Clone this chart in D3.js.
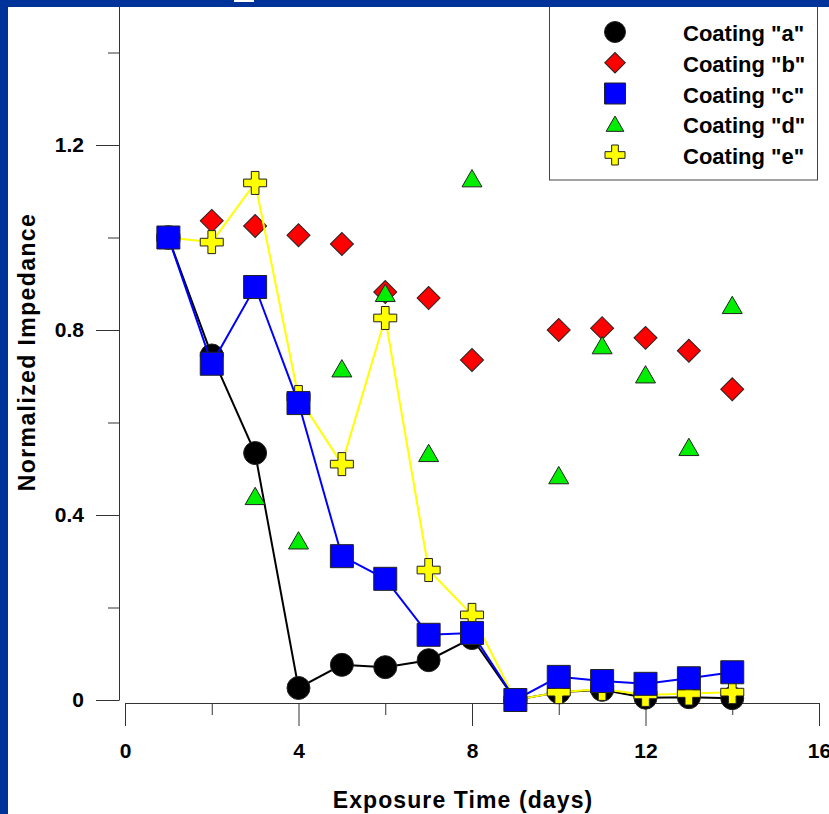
<!DOCTYPE html>
<html>
<head>
<meta charset="utf-8">
<script src="https://cdn.jsdelivr.net/npm/d3@7"></script>
<style>
  body { margin: 0; padding: 0; background: #ffffff; }
  svg { display: block; font-family: 'Liberation Sans', Arial, sans-serif; font-weight: bold; }
</style>
</head>
<body>
<script>
// values
const daysA = [1, 2, 3, 4, 5, 6, 7, 8, 9, 10, 11, 12, 13, 14]
const coatingA = [1.0, 0.745, 0.534, 0.026, 0.076, 0.071, 0.086, 0.134, 0, 0.017, 0.022, 0.005, 0.006, 0.004]

const daysB = [1, 2, 3, 4, 5, 6, 7, 8, 10, 11, 12, 13, 14]
const coatingB = [1.0, 1.036, 1.025, 1.005, 0.986, 0.882, 0.869, 0.735, 0.8, 0.804, 0.783, 0.755, 0.672]

const daysC = [1, 2, 3, 4, 5, 6, 7, 8, 9, 10, 11, 12, 13, 14]
const coatingC = [1.0, 0.727, 0.893, 0.642, 0.311, 0.262, 0.141, 0.145, 0, 0.05, 0.041, 0.035, 0.047, 0.06]

const daysD = [1, 3, 4, 5, 6, 7, 8, 10, 11, 12, 13, 14]
const coatingD = [1.0, 0.435, 0.339, 0.711, 0.874, 0.528, 1.122, 0.48, 0.761, 0.698, 0.541, 0.848]

const daysE = [1, 2, 3, 4, 5, 6, 7, 8, 9, 10, 11, 12, 13, 14]
const coatingE = [1.0, 0.99, 1.118, 0.655, 0.51, 0.826, 0.281, 0.184, 0, 0.017, 0.024, 0.011, 0.014, 0.017]

const legendLabels = ['Coating "a"', 'Coating "b"', 'Coating "c"', 'Coating "d"', 'Coating "e"']
const xMajorTicks = [0, 4, 8, 12, 16]
const xMinorTicks = [2, 6, 10, 14]
const yMajorTicks = [0, 0.4, 0.8, 1.2]
const yMinorTicks = [0.2, 0.6, 1.0, 1.4]

const W = 829, H = 814

const svg = d3.select('body')
              .append('svg')
              .attr('width', W)
              .attr('height', H)

svg.append('rect')
   .attr('width', W)
   .attr('height', H)
   .attr('fill', '#ffffff')

const x = d3.scaleLinear().domain([0, 16]).range([125, 819])
const y = d3.scaleLinear().domain([0, 1.5]).range([700, 6.25])

const series = [
    {days: daysA, vals: coatingA, type: d3.symbolCircle, size: 415, fill: '#000000', line: '#000000', rot: 0, lsize: 346},
    {days: daysB, vals: coatingB, type: d3.symbolSquare, size: 265, fill: '#ff0000', line: null, rot: 45, lsize: 210},
    {days: daysD, vals: coatingD, type: d3.symbolTriangle, size: 173, fill: '#00ee00', line: null, rot: 0, lsize: 135},
    {days: daysE, vals: coatingE, type: d3.symbolCross, size: 294, fill: '#ffff00', line: '#ffff00', rot: 0, lsize: 222},
    {days: daysC, vals: coatingC, type: d3.symbolSquare, size: 529, fill: '#0000ff', line: '#0000ff', rot: 0, lsize: 441}
]

// axes
const axisColor = '#333'

svg.append('g')
   .attr('transform', 'translate(119,0)')
   .call(d3.axisLeft(y).tickValues(yMajorTicks).tickSize(23).tickSizeOuter(0).tickPadding(12)
          .tickFormat(d => d === 0 ? '0' : d3.format('.1f')(d)))
svg.append('g')
   .attr('transform', 'translate(119,0)')
   .call(d3.axisLeft(y).tickValues(yMinorTicks).tickSize(11).tickFormat(''))
   .call(g => g.select('.domain').remove())

svg.append('g')
   .attr('transform', 'translate(0,703)')
   .call(d3.axisBottom(x).tickValues(xMajorTicks).tickSize(23).tickSizeOuter(0).tickPadding(17))
svg.append('g')
   .attr('transform', 'translate(0,703)')
   .call(d3.axisBottom(x).tickValues(xMinorTicks).tickSize(12).tickFormat(''))
   .call(g => g.select('.domain').remove())

svg.selectAll('.domain, .tick line')
   .attr('stroke', axisColor)
   .attr('stroke-width', 1)

svg.selectAll('.tick text')
   .attr('fill', '#000')
   .style('font-size', '21px')
   .style('font-weight', 'bold')
   .style('font-family', "'Liberation Sans', Arial, sans-serif")

// axis titles
svg.append('text')
   .attr('x', 463)
   .attr('y', 808)
   .attr('text-anchor', 'middle')
   .style('font-size', '23px')
   .style('letter-spacing', '1.1px')
   .text('Exposure Time (days)')

svg.append('text')
   .attr('transform', 'translate(35,352) rotate(-90)')
   .attr('text-anchor', 'middle')
   .style('font-size', '23px')
   .style('letter-spacing', '1.4px')
   .text('Normalized Impedance')

// data
const plot = svg.append('g')

series.forEach(s => {
    const pts = s.days.map((d, i) => [d, s.vals[i]])
    if (s.line) {
        plot.append('path')
            .datum(pts)
            .attr('fill', 'none')
            .attr('stroke', s.line)
            .attr('stroke-width', 2)
            .attr('d', d3.line().x(d => x(d[0])).y(d => y(d[1])))
    }
    plot.append('g')
        .selectAll('path')
        .data(pts)
        .join('path')
        .attr('transform', d => `translate(${x(d[0])},${y(d[1])}) rotate(${s.rot})`)
        .attr('d', d3.symbol().type(s.type).size(s.size))
        .attr('fill', s.fill)
        .attr('stroke', '#222')
        .attr('stroke-width', 1)
})

// legend
const legend = svg.append('g')
legend.append('rect')
      .attr('x', 549.5)
      .attr('y', -1)
      .attr('width', 268)
      .attr('height', 181)
      .attr('fill', '#ffffff')
      .attr('stroke', '#444')
      .attr('stroke-width', 1)

const legendOrder = [0, 1, 4, 2, 3]  // a, b, c, d, e
const rowY = d3.scalePoint().domain(legendLabels).range([32, 155])

legendLabels.forEach((lab, i) => {
    const s = series[legendOrder[i]]
    const cy = rowY(lab) + (s.type === d3.symbolTriangle ? 2 : 0)
    legend.append('path')
          .attr('transform', `translate(615,${cy}) rotate(${s.rot})`)
          .attr('d', d3.symbol().type(s.type).size(s.lsize))
          .attr('fill', s.fill)
          .attr('stroke', '#222')
          .attr('stroke-width', 1)
    legend.append('text')
          .attr('x', 683)
          .attr('y', rowY(lab) + 9)
          .style('font-size', '22px')
          .text(lab)
})

// frame of the slide
svg.append('rect')
   .attr('x', 0).attr('y', 0)
   .attr('width', W).attr('height', 7)
   .attr('fill', '#003399')
svg.append('rect')
   .attr('x', 0).attr('y', 0)
   .attr('width', 8).attr('height', H)
   .attr('fill', '#003399')
svg.append('rect')
   .attr('x', 234).attr('y', 0)
   .attr('width', 20).attr('height', 2)
   .attr('fill', '#ffffff')
</script>
</body>
</html>
